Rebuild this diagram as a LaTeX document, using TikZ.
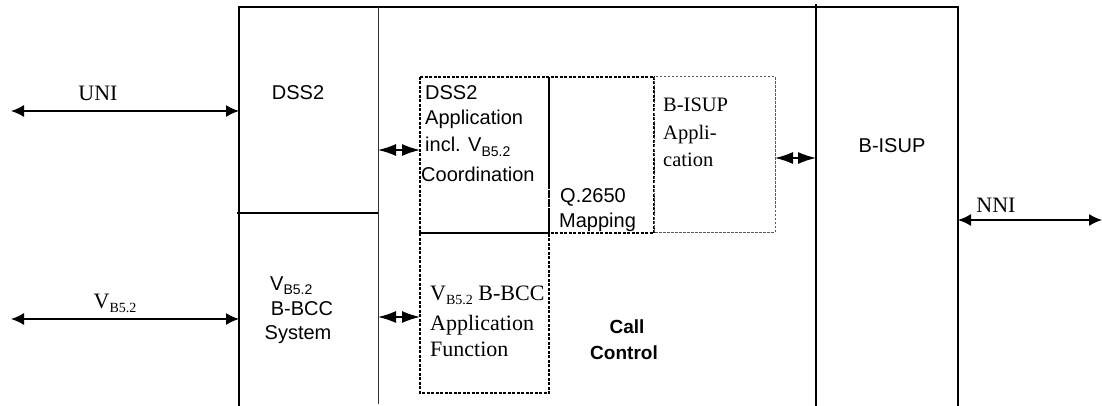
\documentclass[tikz,border=0pt]{standalone}
\usepackage{fontspec}
\setmainfont{Liberation Serif}
\setsansfont{Liberation Sans}
\usetikzlibrary{arrows.meta}
\newcommand\subidx[1]{\raisebox{-0.45ex}{\fontsize{14}{14}\selectfont #1}}
\tikzset{
  frame/.style={line width=1.4pt, black},
  thinframe/.style={line width=0.9pt, black!80},
  dbox/.style={dash pattern=on 3pt off 1.5pt, line width=1.2pt, black},
  lbox/.style={dash pattern=on 2.5pt off 1.5pt, line width=1pt, black!65},
  link/.style={line width=1.4pt, {Latex[length=13pt,width=12pt]}-{Latex[length=13pt,width=12pt]}},
  sidelink/.style={line width=1.4pt, {Latex[length=18pt,width=12pt]}-{Latex[length=18pt,width=12pt]}},
  sf/.style={font=\sffamily\fontsize{20}{24}\selectfont, inner sep=0pt},
  rm/.style={font=\rmfamily\fontsize{22}{26}\selectfont, inner sep=0pt},
  rms/.style={font=\rmfamily\fontsize{20.5}{24}\selectfont, inner sep=0pt},
  bf/.style={font=\sffamily\bfseries\fontsize{19}{23}\selectfont, inner sep=0pt},
}
\begin{document}
\begin{tikzpicture}[x=1pt,y=-1pt]
\useasboundingbox (0,0) rectangle (1102,406);

% outer exchange frame
\coordinate (tl) at (239,7);
\coordinate (tr) at (958,7);
\draw[frame] (239,406) -- (tl) -- (tr) -- (958,406);
\draw[thinframe] (378,7) -- (378,404);
\draw[line width=2.4pt] (816,4) -- (816,406);
\draw[frame] (237,213) -- (378,213);

% functional blocks inside call control
\draw[dbox] (420,77) rectangle (549,233);
\draw[dbox] (549,77) rectangle (654,233);
\draw[lbox] (654,77) rectangle (775,232);
\draw[dbox] (420,233) rectangle (549,393);

% external interfaces
\coordinate (uniL) at (11,111);
\coordinate (uniR) at (239,111);
\coordinate (vbL) at (11,319);
\coordinate (vbR) at (239,319);
\coordinate (nniL) at (958,220);
\coordinate (nniR) at (1102,220);
\draw[link] (uniL) -- (uniR);
\draw[link] (vbL) -- (vbR);
\draw[link] (nniL) -- (nniR);

% internal interfaces
\coordinate (a1) at (378,150);
\coordinate (b1) at (420,150);
\coordinate (a2) at (378,317);
\coordinate (b2) at (420,317);
\coordinate (a3) at (775,158);
\coordinate (b3) at (816,158);
\draw[sidelink] (a1) -- (b1);
\draw[sidelink] (a2) -- (b2);
\draw[sidelink] (a3) -- (b3);

% interface labels
\node[rm, anchor=base] (uni) at (98,101) {UNI};
\node[rm, anchor=base] (vb) at (115,308) {V\subidx{B5.2}};
\node[rm, anchor=base] (nni) at (996,212) {NNI};

% protocol blocks
\node[sf, anchor=base] (dss) at (298,100) {DSS2};
\node[sf, anchor=base west] (bcc1) at (270,290) {V\subidx{B5.2}};
\node[sf, anchor=base] (bcc2) at (302,315) {B-BCC};
\node[sf, anchor=base] (bcc3) at (298,339) {System};
\node[sf, anchor=base] (isup) at (892,153) {B-ISUP};

% DSS2 application
\node[sf, anchor=base west] (d1) at (425,100) {DSS2};
\node[sf, anchor=base west] (d2) at (425,125) {Application};
\node[sf, anchor=base west] (d3) at (425,152) {incl. V\subidx{B5.2}};
\node[sf, anchor=base west] (d4) at (421,182) {Coordination};

% mapping
\node[sf, anchor=base west] (q1) at (560,203) {Q.2650};
\node[sf, anchor=base west] (q2) at (559,227) {Mapping};

% B-ISUP application
\node[rms, anchor=base west] (i1) at (663,112) {B-ISUP};
\node[rms, anchor=base west] (i2) at (663,140) {Appli-};
\node[rms, anchor=base west] (i3) at (663,167) {cation};

% VB5.2 B-BCC application function
\node[rm, anchor=base west] (f1) at (430,300) {V\subidx{B5.2} B-BCC};
\node[rm, anchor=base west] (f2) at (430,330) {Application};
\node[rm, anchor=base west] (f3) at (430,356) {Function};

% call control
\node[bf, anchor=base] (cc1) at (627,333) {Call};
\node[bf, anchor=base] (cc2) at (624,359) {Control};
\end{tikzpicture}
\end{document}
